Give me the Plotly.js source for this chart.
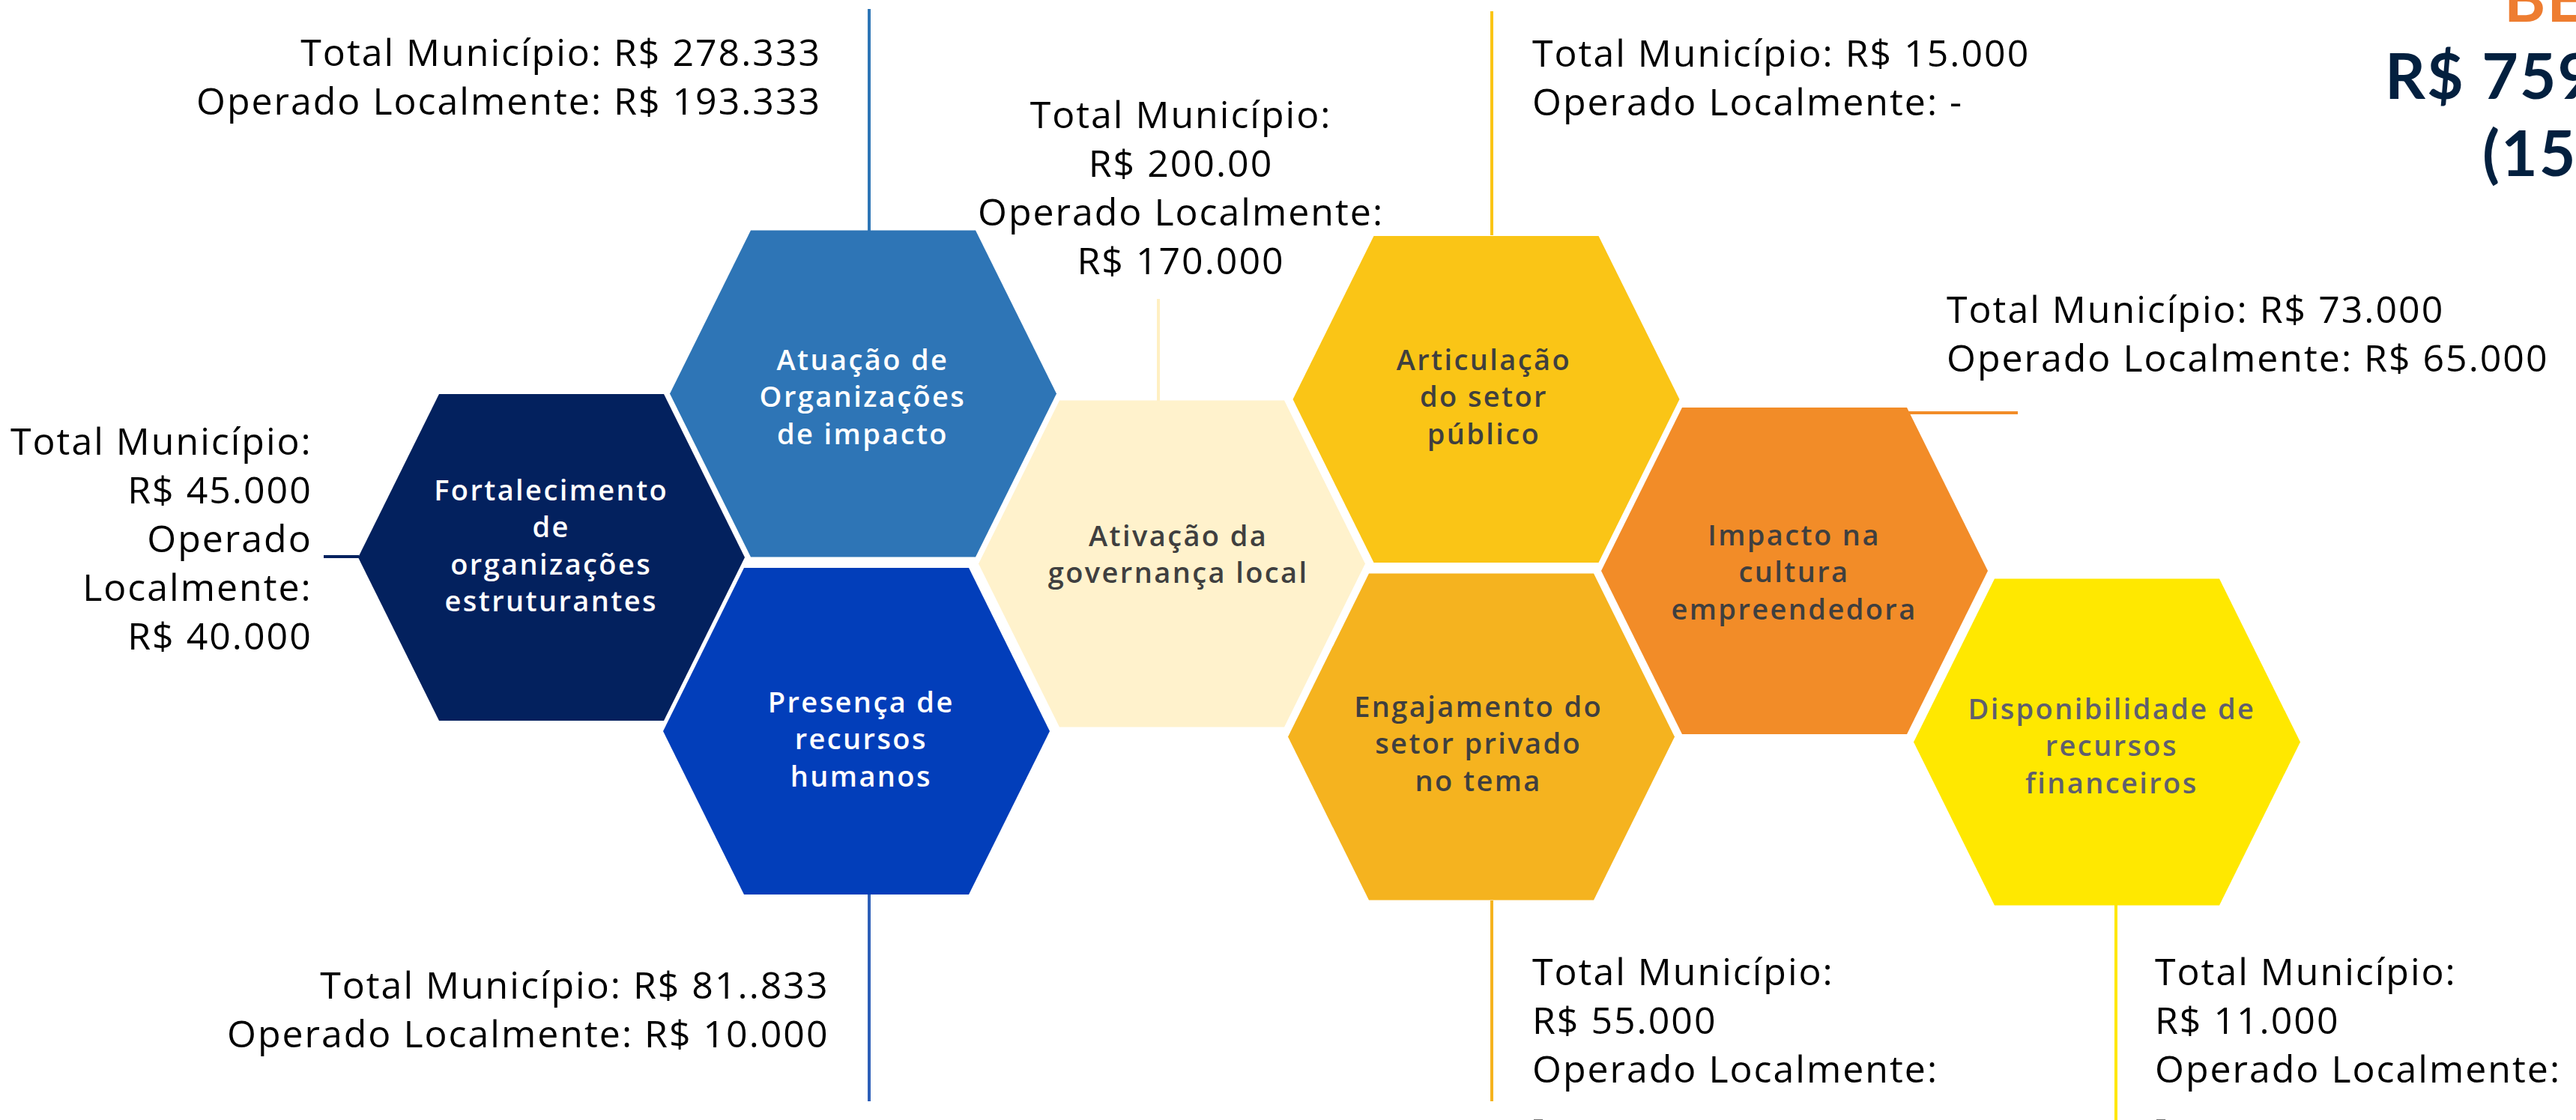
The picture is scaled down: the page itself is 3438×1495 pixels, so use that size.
<!DOCTYPE html>
<html>
<head>
<meta charset="utf-8">
<script src="https://cdn.plot.ly/plotly-3.0.1.min.js"></script>
<style>
  html, body { margin: 0; padding: 0; background: #ffffff; overflow: hidden; }
  #chart { width: 3438px; height: 1495px; }
  .annotation-text { letter-spacing: 2px; }
</style>
</head>
<body>
<div id="chart"></div>
<script>
// ---------- DATA ----------
const categories = [
  "Fortalecimento<br>de<br>organizações<br>estruturantes",
  "Atuação de<br>Organizações<br>de impacto",
  "Presença de<br>recursos<br>humanos",
  "Ativação da<br>governança local",
  "Articulação<br>do setor<br>público",
  "Engajamento do<br>setor privado<br>no tema",
  "Impacto na<br>cultura<br>empreendedora",
  "Disponibilidade de<br>recursos<br>financeiros"
];
const totalMunicipio = ["R$ 45.000", "R$ 278.333", "R$ 81..833", "R$ 200.00", "R$ 15.000", "R$ 55.000", "R$ 73.000", "R$ 11.000"];
const operadoLocalmente = ["R$ 40.000", "R$ 193.333", "R$ 10.000", "R$ 170.000", "-", "-", "R$ 65.000", "-"];
const headlineLines = ["BE", "R$ 759", "(15,"];

// ---------- LAYOUT / STYLE ----------
const W = 3438, H = 1495;
const hexGeom = { hh: 218, vw: 258, tw: 150 };
const hexCenters = [
  [736, 744], [1152, 525.5], [1143, 976], [1564, 752.5],
  [1983.5, 533], [1977, 983.5], [2395, 762], [2812, 990.5]
];
const hexTextCenters = [[735, 727], [1151, 528], [1149, 985.5], [1572, 738], [1980, 528], [1973, 991], [2394, 762], [2818, 994]];
const hexColors = ["#03215E", "#2E75B6", "#023EBA", "#FFF2CC", "#FAC516", "#F5B31F", "#F28C28", "#FFE800"];
const hexTextColors = ["#FFFFFF", "#FFFFFF", "#FFFFFF", "#3F3F3F", "#3F3F3F", "#3F3F3F", "#3F3F3F", "#5F5F6E"];
const lineColors = ["#03215E", "#2E75B6", "#2E5FB8", "#FFEFC2", "#FAC516", "#F5B31F", "#F28C28", "#FFE800"];
const connectors = [
  [[432, 479], [743, 743]],
  [[1160, 1160], [12, 308]],
  [[1160, 1160], [1194, 1470]],
  [[1546, 1546], [399, 535]],
  [[1991, 1991], [15, 314]],
  [[1991, 1991], [1202, 1470]],
  [[2545, 2693], [551, 551]],
  [[2824, 2824], [1208, 1495]]
];
// label placement: [x, block centre y, xanchor, style]
const labelPos = [
  [419, 718, "right", "narrow"],
  [1098, 101, "right", "inline"],
  [1109, 1346, "right", "inline"],
  [1576, 249, "center", "stacked"],
  [2043, 102, "left", "inline"],
  [2043, 1393, "left", "stacked"],
  [2596, 444, "left", "inline"],
  [2874, 1393, "left", "stacked"]
];

function labelText(i, style) {
  const t = totalMunicipio[i], o = operadoLocalmente[i];
  if (style === "inline") return "Total Município: " + t + "<br>Operado Localmente: " + o;
  if (style === "stacked") return "Total Município:<br>" + t + "<br>Operado Localmente:<br>" + o;
  return "Total Município:<br>" + t + "<br>Operado<br>Localmente:<br>" + o;
}

// tracking for the hexagon captions (first annotations)
(function () {
  let css = "";
  for (let i = 0; i < categories.length; i++) {
    css += '.annotation[data-index="' + i + '"] .annotation-text { letter-spacing: 2.4px; }\n';
  }
  const st = document.createElement("style");
  st.textContent = css;
  document.head.appendChild(st);
})();

const traces = [];
connectors.forEach((c, i) => {
  traces.push({
    type: "scatter", mode: "lines", x: c[0], y: c[1],
    line: { color: lineColors[i], width: 4 }, hoverinfo: "skip", showlegend: false
  });
});
hexCenters.forEach((c, i) => {
  const [cx, cy] = c, { hh, vw, tw } = hexGeom;
  traces.push({
    type: "scatter", mode: "lines", fill: "toself",
    x: [cx - tw, cx + tw, cx + vw, cx + tw, cx - tw, cx - vw, cx - tw],
    y: [cy - hh, cy - hh, cy, cy + hh, cy + hh, cy, cy - hh],
    fillcolor: hexColors[i], line: { width: 0, color: hexColors[i] },
    hoverinfo: "skip", showlegend: false
  });
});

const annotations = [];
categories.forEach((name, i) => {
  annotations.push({
    x: hexTextCenters[i][0], y: hexTextCenters[i][1], xref: "x", yref: "y",
    text: name, showarrow: false, xanchor: "center", yanchor: "middle", align: "center",
    font: { family: "Open Sans", size: 38, color: hexTextColors[i], weight: 600 }
  });
});
labelPos.forEach((p, i) => {
  annotations.push({
    x: p[0], y: p[1], xref: "x", yref: "y",
    text: labelText(i, p[3]), showarrow: false, xanchor: p[2], yanchor: "middle", align: p[2],
    font: { family: "Open Sans", size: 50, color: "#000000" }
  });
});
const headPos = [[3340, 29, "#EE7D31"], [3181, 132, "#03203F"], [3311, 235, "#03203F"]];
headlineLines.forEach((t, i) => {
  annotations.push({
    x: headPos[i][0], y: headPos[i][1], xref: "x", yref: "y",
    text: t, showarrow: false, xanchor: "left", yanchor: "bottom", yshift: -20,
    font: { family: "Lato", size: 84, color: headPos[i][2], weight: 700 }
  });
});

const layout = {
  width: W, height: H,
  margin: { l: 0, r: 0, t: 0, b: 0, pad: 0 },
  paper_bgcolor: "#FFFFFF", plot_bgcolor: "#FFFFFF",
  showlegend: false,
  xaxis: { range: [0, W], visible: false, fixedrange: true },
  yaxis: { range: [H, 0], visible: false, fixedrange: true },
  annotations: annotations
};

Plotly.newPlot("chart", traces, layout, { staticPlot: true, displayModeBar: false });
</script>
</body>
</html>
